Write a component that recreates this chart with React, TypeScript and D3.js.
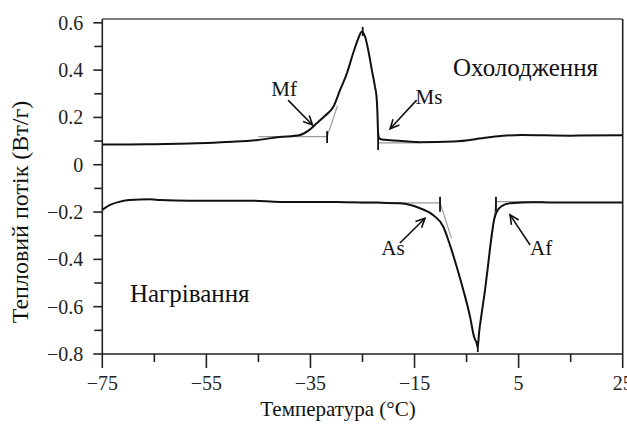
import React from "react";
import * as d3 from "d3";

// ---- data ----
const coolingT = [-75, -70, -65, -60, -55, -50, -45, -41, -37, -35.4, -33.8, -32.2, -30.6, -29.3, -28.0, -26.8, -25.8, -25.15, -24.5, -23.9, -23.2, -22.6, -22.3, -22.15, -22.0, -21.8, -21.3, -19.7, -13.9, -7.5, -1, 2, 5.5, 15, 25];
const coolingV = [0.086, 0.086, 0.087, 0.089, 0.092, 0.097, 0.105, 0.117, 0.126, 0.144, 0.175, 0.207, 0.245, 0.316, 0.386, 0.471, 0.534, 0.562, 0.541, 0.485, 0.400, 0.329, 0.287, 0.231, 0.133, 0.112, 0.107, 0.104, 0.095, 0.098, 0.115, 0.122, 0.126, 0.123, 0.125];

const heatingT = [-75, -73.5, -71.6, -69.7, -65.8, -63.9, -58.1, -46.6, -40.8, -30, -22, -17.8, -13.95, -11.4, -9.47, -8.2, -6.9, -5.63, -4.34, -3.57, -3.06, -2.85, -2.61, -2.1, -1.46, -0.83, -0.17, 0.27, 0.79, 1.75, 3.35, 7.77, 15, 25];
const heatingV = [-0.191, -0.170, -0.156, -0.149, -0.146, -0.149, -0.152, -0.152, -0.157, -0.158, -0.160, -0.163, -0.184, -0.213, -0.262, -0.339, -0.431, -0.529, -0.642, -0.727, -0.755, -0.772, -0.713, -0.628, -0.530, -0.417, -0.297, -0.234, -0.199, -0.175, -0.163, -0.159, -0.160, -0.160];

const xTickLabels = [-75, -55, -35, -15, 5, 25];
const xMinorTicks = [-65, -45, -25, -5, 15];
const yTickLabels = [-0.8, -0.6, -0.4, -0.2, 0, 0.2, 0.4, 0.6];
const yMinorTicks = [-0.7, -0.5, -0.3, -0.1, 0.1, 0.3, 0.5];

// construction (tangent/baseline) lines: [t1, v1, t2, v2]
const guideLines = [
  [-45, 0.119, -31.8, 0.119],
  [-31.8, 0.119, -29.8, 0.25],
  [-22.0, 0.092, -14, 0.092],
  [-25.5, -0.161, -10.1, -0.161],
  [-10.1, -0.161, -7.9, -0.31],
  [0.65, -0.156, 10, -0.156],
  [0.65, -0.156, -0.15, -0.31],
];
// transition markers: [t, v1, v2]
const markers = [
  [-31.8, 0.142, 0.092],
  [-22.0, 0.134, 0.062],
  [-24.96, 0.583, 0.544],
  [-10.1, -0.135, -0.199],
  [0.65, -0.135, -0.199],
  [-2.85, -0.745, -0.792],
];
// arrows: [tFrom, vFrom, tTo, vTo]
const arrows = [
  [-39.3, 0.273, -34.6, 0.168],
  [-14.6, 0.273, -19.7, 0.152],
  [-17.8, -0.331, -13.0, -0.226],
  [7.2, -0.339, 3.35, -0.212],
];
const pointLabels = ["Mf", "Ms", "As", "Af"];
const pointLabelPos = [
  [-37.6, 0.29, "end"],
  [-14.8, 0.255, "start"],
  [-21.4, -0.38, "start"],
  [7.2, -0.38, "start"],
];
const seriesLabels = ["Охолодження", "Нагрівання"];
const seriesLabelPos = [
  [-7.6, 0.374],
  [-69.7, -0.58],
];
const xTitle = "Температура (°C)";
const yTitle = "Тепловий потік (Вт/г)";

const W = 627;
const H = 426;
const FONT = "'Liberation Serif', 'Times New Roman', serif";

const fmt = (v: number) => {
  const s = v === 0 ? "0" : Math.abs(v).toFixed(Number.isInteger(v) ? 0 : 1);
  return v < 0 ? "\u2212" + s : s;
};

export default function App() {
  const x = d3.scaleLinear().domain([-75, 25]).range([102.3, 622.7]);
  const y = d3.scaleLinear().domain([-0.8, 0.616]).range([354, 19]);
  const [x0, x1] = x.range();
  const yb = y(-0.8);
  const yt = y(0.616);

  const line = d3
    .line<[number, number]>()
    .x((d) => x(d[0]))
    .y((d) => y(d[1]))
    .curve(d3.curveMonotoneX);

  const cooling = coolingT.map((t, i) => [t, coolingV[i]] as [number, number]);
  const heating = heatingT.map((t, i) => [t, heatingV[i]] as [number, number]);

  const arrowHead = (a: number[]) => {
    const X1 = x(a[0]), Y1 = y(a[1]), X2 = x(a[2]), Y2 = y(a[3]);
    const ang = Math.atan2(Y2 - Y1, X2 - X1);
    const L = 10, spread = Math.PI / 7;
    const p1 = [X2 - L * Math.cos(ang - spread), Y2 - L * Math.sin(ang - spread)];
    const p2 = [X2 - L * Math.cos(ang + spread), Y2 - L * Math.sin(ang + spread)];
    return `M${p1[0]},${p1[1]}L${X2},${Y2}L${p2[0]},${p2[1]}`;
  };

  return (
    <div style={{ position: "fixed", left: 0, top: 0, width: W, height: H, background: "#fff" }}>
      <svg width={W} height={H} style={{ display: "block" }} fontFamily={FONT}>
        <rect width={W} height={H} fill="#fff" />
        {/* frame */}
        <line x1={x0} x2={x1} y1={yt} y2={yt} stroke="#555" strokeWidth={1.6} />
        <line x1={x1} x2={x1} y1={yt} y2={yb} stroke="#222" strokeWidth={1.6} />
        <line x1={x0} x2={x0} y1={yt} y2={yb} stroke="#222" strokeWidth={1.6} />
        <line x1={x0} x2={x1} y1={yb} y2={yb} stroke="#222" strokeWidth={1.6} />

        {/* x ticks */}
        {xTickLabels.map((t) => (
          <g key={"xt" + t}>
            <line x1={x(t)} x2={x(t)} y1={yb} y2={yb + 14} stroke="#222" strokeWidth={1.6} />
            <text x={x(t)} y={yb + 36} textAnchor="middle" fontSize={20} fill="#222">
              {fmt(t)}
            </text>
          </g>
        ))}
        {xMinorTicks.map((t) => (
          <line key={"xm" + t} x1={x(t)} x2={x(t)} y1={yb} y2={yb + 8} stroke="#222" strokeWidth={1.6} />
        ))}
        {/* y ticks */}
        {yTickLabels.map((v) => (
          <g key={"yt" + v}>
            <line x1={x0 - 9} x2={x0} y1={y(v)} y2={y(v)} stroke="#222" strokeWidth={1.6} />
            <text x={x0 - 19} y={y(v)} dy="0.35em" textAnchor="end" fontSize={20} fill="#222">
              {fmt(v)}
            </text>
          </g>
        ))}
        {yMinorTicks.map((v) => (
          <line key={"ym" + v} x1={x0 - 8} x2={x0} y1={y(v)} y2={y(v)} stroke="#222" strokeWidth={1.6} />
        ))}

        {/* guide lines */}
        {guideLines.map((g, i) => (
          <line key={"g" + i} x1={x(g[0])} y1={y(g[1])} x2={x(g[2])} y2={y(g[3])} stroke="#9a9a9a" strokeWidth={1.2} />
        ))}

        {/* curves */}
        <path d={line(cooling) || ""} fill="none" stroke="#111" strokeWidth={2} strokeLinejoin="round" />
        <path d={line(heating) || ""} fill="none" stroke="#111" strokeWidth={2} strokeLinejoin="round" />

        {/* markers */}
        {markers.map((m, i) => (
          <line key={"m" + i} x1={x(m[0])} x2={x(m[0])} y1={y(m[1])} y2={y(m[2])} stroke="#111" strokeWidth={1.8} />
        ))}

        {/* arrows */}
        {arrows.map((a, i) => (
          <g key={"a" + i} stroke="#111" strokeWidth={1.6} fill="none">
            <line x1={x(a[0])} y1={y(a[1])} x2={x(a[2])} y2={y(a[3])} />
            <path d={arrowHead(a)} />
          </g>
        ))}
        {pointLabels.map((s, i) => (
          <text
            key={"pl" + s}
            x={x(pointLabelPos[i][0] as number)}
            y={y(pointLabelPos[i][1] as number)}
            textAnchor={pointLabelPos[i][2] as any}
            fontSize={21}
            fill="#111"
          >
            {s}
          </text>
        ))}
        {seriesLabels.map((s, i) => (
          <text key={"sl" + i} x={x(seriesLabelPos[i][0])} y={y(seriesLabelPos[i][1])} fontSize={25} fill="#111">
            {s}
          </text>
        ))}

        {/* axis titles */}
        <text x={338} y={416} textAnchor="middle" fontSize={21} fill="#111">
          {xTitle}
        </text>
        <text transform={`translate(28,212) rotate(-90)`} textAnchor="middle" fontSize={24} fill="#111">
          {yTitle}
        </text>
      </svg>
    </div>
  );
}
